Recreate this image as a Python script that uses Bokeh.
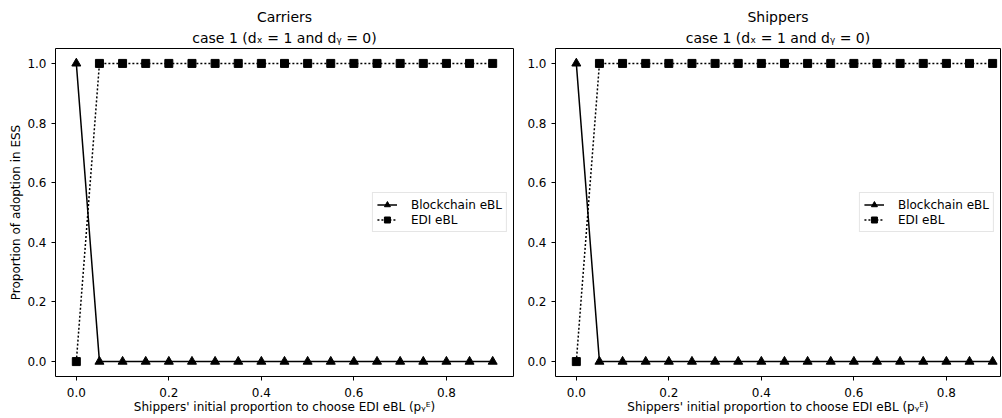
from bokeh.plotting import figure
from bokeh.layouts import row
from bokeh.models import Title, Range1d, FixedTicker, PrintfTickFormatter
from bokeh.embed import file_html
from bokeh.resources import INLINE

FONT = "DejaVu Sans"

x_vals = [0.0, 0.05, 0.1, 0.15, 0.2, 0.25, 0.3, 0.35, 0.4, 0.45,
          0.5, 0.55, 0.6, 0.65, 0.7, 0.75, 0.8, 0.85, 0.9]
carriers_blockchain = [1, 0, 0, 0, 0, 0, 0, 0, 0, 0, 0, 0, 0, 0, 0, 0, 0, 0, 0]
carriers_edi = [0, 1, 1, 1, 1, 1, 1, 1, 1, 1, 1, 1, 1, 1, 1, 1, 1, 1, 1]
shippers_blockchain = [1, 0, 0, 0, 0, 0, 0, 0, 0, 0, 0, 0, 0, 0, 0, 0, 0, 0, 0]
shippers_edi = [0, 1, 1, 1, 1, 1, 1, 1, 1, 1, 1, 1, 1, 1, 1, 1, 1, 1, 1]

x_ticks = [0.0, 0.2, 0.4, 0.6, 0.8]
y_ticks = [0.0, 0.2, 0.4, 0.6, 0.8, 1.0]

case_text = "case 1 (dₓ = 1 and dᵧ = 0)"
x_label = "Shippers' initial proportion to choose EDI eBL (pᵧᴱ)"
y_label = "Proportion of adoption in ESS"


def make(name, bc, edi, width, x_end, border_left, border_right, ylabel):
    p = figure(width=width, height=418, output_backend="svg", toolbar_location=None,
               x_range=Range1d(-0.045, x_end), y_range=Range1d(-0.05, 1.05),
               min_border_left=border_left, min_border_right=border_right,
               min_border_top=48, min_border_bottom=42)
    p.add_layout(Title(text=case_text, align="center", text_font_size="14px",
                       text_font_style="normal", text_font=FONT, text_color="black",
                       standoff=5), "above")
    p.add_layout(Title(text=name, align="center", text_font_size="14px",
                       text_font_style="normal", text_font=FONT, text_color="black",
                       standoff=1), "above")
    p.grid.visible = False
    p.outline_line_color = "black"
    p.outline_line_width = 1
    p.background_fill_color = "white"
    p.border_fill_color = "white"
    for ax in (p.xaxis, p.yaxis):
        ax.axis_line_color = None
        ax.major_tick_out = 4
        ax.major_tick_in = 0
        ax.minor_tick_line_color = None
        ax.major_tick_line_color = "black"
        ax.major_label_text_font = FONT
        ax.major_label_text_font_size = "12px"
        ax.major_label_text_color = "black"
        ax.axis_label_text_font = FONT
        ax.axis_label_text_font_size = "12px"
        ax.axis_label_text_font_style = "normal"
        ax.axis_label_text_color = "black"
        ax.formatter = PrintfTickFormatter(format="%.1f")
    p.xaxis.major_label_standoff = 7
    p.xaxis.axis_label_standoff = 0
    p.yaxis.major_label_standoff = 5
    p.yaxis.axis_label_standoff = 1
    p.xaxis.ticker = FixedTicker(ticks=x_ticks)
    p.yaxis.ticker = FixedTicker(ticks=y_ticks)
    p.xaxis.axis_label = x_label
    if ylabel:
        p.yaxis.axis_label = ylabel

    p.line(x_vals, bc, color="black", line_width=1.5, legend_label="Blockchain eBL")
    p.scatter(x_vals, bc, marker="triangle", size=9, color="black",
              legend_label="Blockchain eBL")
    p.line(x_vals, edi, color="black", line_width=1.5, line_dash="2 2",
           legend_label="EDI eBL")
    p.scatter(x_vals, edi, marker="square", size=8, color="black",
              legend_label="EDI eBL")

    lg = p.legend[0]
    lg.location = "center_right"
    lg.margin = 6
    lg.padding = 4
    lg.spacing = 0
    lg.label_text_font = FONT
    lg.label_text_font_size = "12px"
    lg.label_text_color = "black"
    lg.label_height = 15
    lg.glyph_height = 15
    lg.glyph_width = 20
    lg.label_standoff = 14
    lg.border_line_color = "#cccccc"
    lg.border_line_width = 1
    lg.background_fill_alpha = 0.8
    return p


p1 = make("Carriers", carriers_blockchain, carriers_edi, 520, 0.945, 55, 7, y_label)
p2 = make("Shippers", shippers_blockchain, shippers_edi, 482, 0.917, 35, 2, None)

p = row(p1, p2)
open("out.html", "w").write(file_html(p, INLINE))
